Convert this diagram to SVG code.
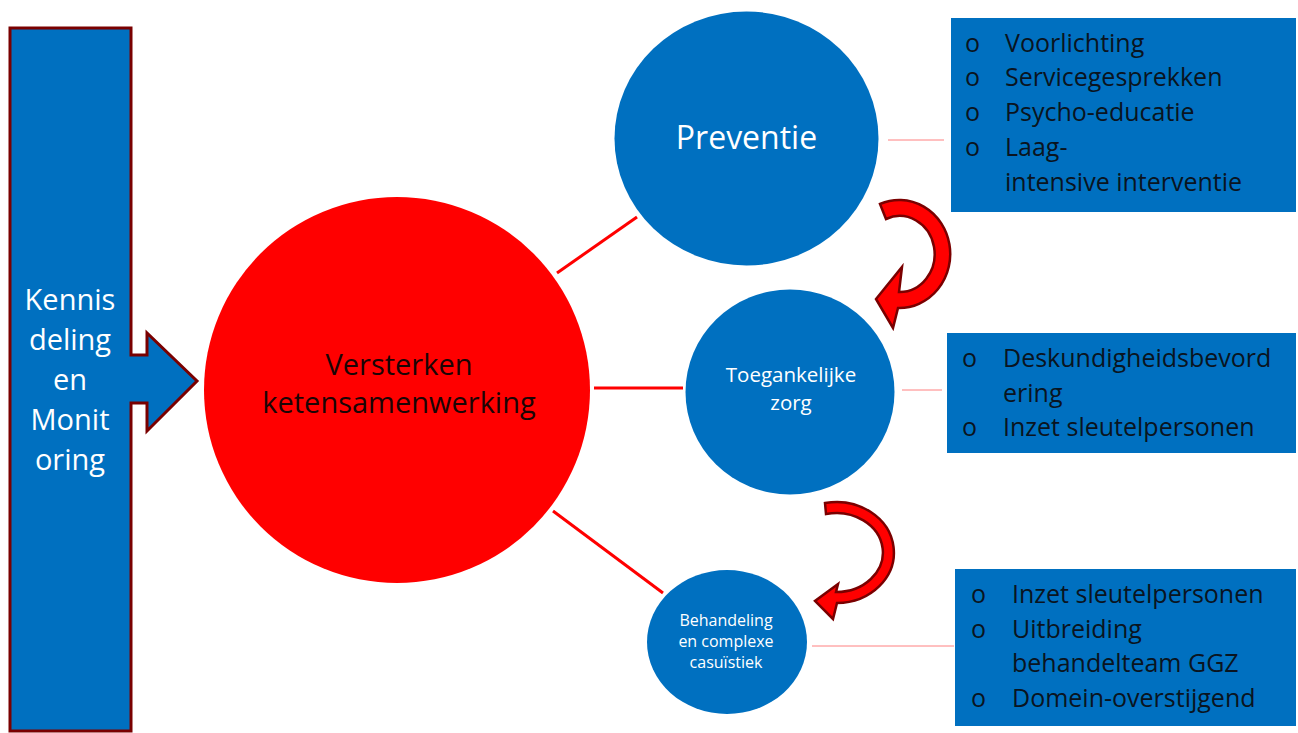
<svg xmlns="http://www.w3.org/2000/svg" width="1298" height="733" viewBox="0 0 1298 733">
<style>
.blue{fill:#0070c0}
.wt{fill:#ffffff;font-family:"Open Sans","Noto Sans",sans-serif;text-anchor:middle}
.bt{fill:#0a1420;font-family:"Open Sans","Noto Sans",sans-serif;font-size:25px}
.con{stroke:#ff0000;stroke-width:3;fill:none}
.thin{stroke:#ff8080;stroke-width:1;fill:none}
.curv{fill:#ff0000;stroke:#7a0000;stroke-width:2.5;stroke-linejoin:miter}
</style>
<rect width="1298" height="733" fill="#ffffff"/>
<g id="kennis">
<path d="M10,28 H131 V355 H147 V333 L197,381 L147,431 V403 H131 V731 H10 Z" class="blue" stroke="#7a0000" stroke-width="3"/>
<text class="wt" font-size="29" x="70" y="310">Kennis</text>
<text class="wt" font-size="29" x="70" y="350">deling</text>
<text class="wt" font-size="29" x="70" y="390">en</text>
<text class="wt" font-size="29" x="70" y="430">Monit</text>
<text class="wt" font-size="29" x="70" y="470">oring</text>
</g>
<g id="connectors">
<line class="con" x1="557" y1="273" x2="637" y2="217"/>
<line class="con" x1="594" y1="388" x2="683" y2="388"/>
<line class="con" x1="553" y1="511" x2="663" y2="593"/>
<line class="thin" x1="888" y1="140" x2="944" y2="140"/>
<line class="thin" x1="902" y1="390" x2="942" y2="390"/>
<line class="thin" x1="812" y1="646" x2="954" y2="646"/>
<path class="curv" d="M880,204 A51,54 0 1 1 898,308 L893,328 L876,299 L902,267 L899,292 A35,38 0 1 0 886,219 Z"/>
<path class="curv" d="M825,503 A57.5,50.5 0 1 1 837,603 L833,619 L815,601 L838,584 L836,592 A46.5,39.5 0 1 0 826,514 Z"/>
</g>
<g id="versterken">
<circle cx="397" cy="390" r="193" fill="#ff0000"/>
<text font-family="'Open Sans','Noto Sans',sans-serif" font-size="29" fill="#1a0505" text-anchor="middle" x="399" y="375">Versterken</text>
<text font-family="'Open Sans','Noto Sans',sans-serif" font-size="29" fill="#1a0505" text-anchor="middle" x="399" y="413">ketensamenwerking</text>
</g>
<g id="preventie">
<ellipse cx="746.5" cy="138.5" rx="132" ry="127" class="blue"/>
<text class="wt" font-size="32" x="746.5" y="149">Preventie</text>
</g>
<g id="toegankelijke">
<ellipse cx="790" cy="392" rx="104.5" ry="102.5" class="blue"/>
<text class="wt" font-size="20.5" x="791" y="382">Toegankelijke</text>
<text class="wt" font-size="20.5" x="791" y="410">zorg</text>
</g>
<g id="behandeling">
<ellipse cx="727" cy="642" rx="80" ry="72" class="blue"/>
<text class="wt" font-size="16" x="726" y="626">Behandeling</text>
<text class="wt" font-size="16" x="726" y="647">en complexe</text>
<text class="wt" font-size="16" x="726" y="668">casuïstiek</text>
</g>
<g id="box1">
<rect x="951" y="18" width="345" height="194" class="blue"/>
<text class="bt" x="965" y="52">o</text><text class="bt" x="1005" y="52">Voorlichting</text>
<text class="bt" x="965" y="86">o</text><text class="bt" x="1005" y="86">Servicegesprekken</text>
<text class="bt" x="965" y="121">o</text><text class="bt" x="1005" y="121">Psycho-educatie</text>
<text class="bt" x="965" y="156">o</text><text class="bt" x="1005" y="156">Laag-</text>
<text class="bt" x="1005" y="191">intensive interventie</text>
</g>
<g id="box2">
<rect x="947" y="333" width="349" height="120" class="blue"/>
<text class="bt" x="962" y="367">o</text><text class="bt" x="1003" y="367">Deskundigheidsbevord</text>
<text class="bt" x="1003" y="402">ering</text>
<text class="bt" x="962" y="436">o</text><text class="bt" x="1003" y="436">Inzet sleutelpersonen</text>
</g>
<g id="box3">
<rect x="955" y="569" width="341" height="157" class="blue"/>
<text class="bt" x="971" y="603">o</text><text class="bt" x="1012" y="603">Inzet sleutelpersonen</text>
<text class="bt" x="971" y="638">o</text><text class="bt" x="1012" y="638">Uitbreiding</text>
<text class="bt" x="1012" y="672">behandelteam GGZ</text>
<text class="bt" x="971" y="707">o</text><text class="bt" x="1012" y="707">Domein-overstijgend</text>
</g>
</svg>
